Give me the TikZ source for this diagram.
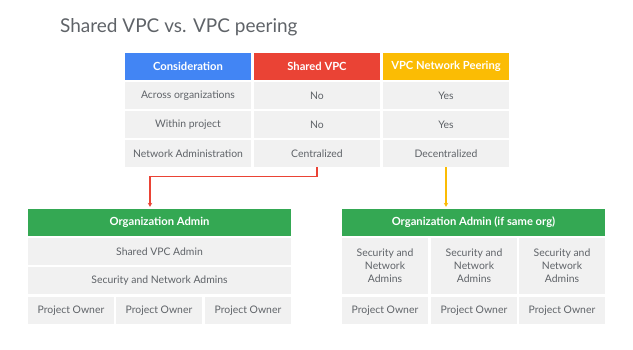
\documentclass[tikz,border=0pt]{standalone}
\usepackage{fontspec}
\setmainfont{Lato}
\usetikzlibrary{arrows.meta}
\definecolor{gblue}{HTML}{4285F4}
\definecolor{gred}{HTML}{EA4335}
\definecolor{gyellow}{HTML}{FBBC04}
\definecolor{ggreen}{HTML}{34A853}
\definecolor{cellgray}{HTML}{F1F1F1}
\definecolor{txtgray}{HTML}{5F6368}
\begin{document}
\begin{tikzpicture}[x=1pt,y=-1pt,
  cell/.style={fill=cellgray, inner sep=0pt, text=txtgray, font=\fontsize{10.4}{13}\selectfont, align=center},
  head/.style={inner sep=0pt, text=white, font=\fontsize{11.2}{13}\selectfont\bfseries, align=center},
  tcol/.style={minimum width=126pt, minimum height=27pt},
  orgw/.style={minimum width=263pt, minimum height=27pt},
  subw/.style={minimum width=86pt, minimum height=27pt},
  link/.style={line width=1.3pt, shorten >=2pt, -{Stealth[length=4pt,width=4.5pt]}}
]
\useasboundingbox (0,0) rectangle (633,349);

% title
\node[anchor=base west, inner sep=0pt, text=txtgray, font=\fontsize{19}{22}\selectfont] (title) at (60,32.5) {Shared VPC vs. VPC peering};

% comparison table
\node[head, tcol, fill=gblue]   (h1) at (188,66.5) {Consideration};
\node[head, tcol, fill=gred]    (h2) at (317,66.5) {Shared VPC};
\node[head, tcol, fill=gyellow] (h3) at (446,66.5) {VPC Network Peering};

\node[cell, tcol] (a1) at (188,95.5) {Across organizations};
\node[cell, tcol] (a2) at (317,95.5) {No};
\node[cell, tcol] (a3) at (446,95.5) {Yes};

\node[cell, tcol] (b1) at (188,124.5) {Within project};
\node[cell, tcol] (b2) at (317,124.5) {No};
\node[cell, tcol] (b3) at (446,124.5) {Yes};

\node[cell, tcol] (c1) at (188,153.5) {Network Administration};
\node[cell, tcol] (c2) at (317,153.5) {Centralized};
\node[cell, tcol] (c3) at (446,153.5) {Decentralized};

% shared VPC hierarchy
\node[head, orgw, fill=ggreen] (orgL) at (159.5,222.5) {Organization Admin};
\node[cell, orgw] (svpc) at (159.5,251.5) {Shared VPC Admin};
\node[cell, orgw] (secL) at (159.5,280.5) {Security and Network Admins};
\node[cell, subw] (poL1) at (71,310.5) {Project Owner};
\node[cell, subw] (poL2) at (159,310.5) {Project Owner};
\node[cell, subw] (poL3) at (248,310.5) {Project Owner};

% peering hierarchy
\node[head, orgw, fill=ggreen] (orgR) at (473.5,222.5) {Organization Admin (if same org)};
\node[cell, subw, minimum height=56pt] (secR1) at (385,266) {Security and\\Network\\Admins};
\node[cell, subw, minimum height=56pt] (secR2) at (474,266) {Security and\\Network\\Admins};
\node[cell, subw, minimum height=56pt] (secR3) at (562,266) {Security and\\Network\\Admins};
\node[cell, subw] (poR1) at (385,310.5) {Project Owner};
\node[cell, subw] (poR2) at (474,310.5) {Project Owner};
\node[cell, subw] (poR3) at (562,310.5) {Project Owner};

% connectors
\draw[link, gred] (c2.south) -- ++(0,9) -| ([xshift=-9.5pt]orgL.north);
\draw[link, gyellow] (c3.south) -- (c3.south |- orgR.north);
\end{tikzpicture}
\end{document}
